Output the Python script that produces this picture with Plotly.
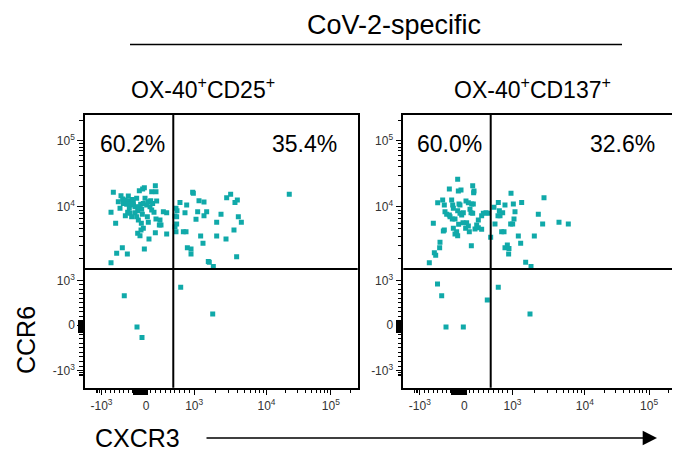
import numpy as np
import plotly.graph_objects as go

# ---------------- data (raw fluorescence values) ----------------
# Panel 1: OX-40+CD25+
p1_cxcr3 = [-734, -562, -524, -472, -382, -307, -285, -434, -584, -786, -412, -360, -464, -322,
            -247, -187, -120, -60, -150, -75, -37, 194, 118, 207, 48, 97, 138, 83, 221, -82,
            -172, -105, 48, -60, -187, -135, 194, 62, -37, 290, 311, 360, 429, 429, -682, -532,
            -659, -419, -786, -247, -210, 14, 118, 166, -375, -285, -509, -150, -97, 277, -22,
            -210, -397, 28, -337, 207, -622, -112,
            622, 643, 602, 636, 705, 844, 809, 968, 982, 1165, 1366, 1117, 1366, 1487, 1059,
            636, 602, 622, 775, 830, 858, 934, 934, 1228, 1323, 1567, 1617, 1839, 2046, 2349,
            2046, 2754, 2813, 3193, 3664, 3951, 4077, 4487, 3550, 3864, 22600,
            720, -488, 1803, -202, -90]
p1_ccr6 = [16500, 14700, 13100, 12600, 12300, 12900, 11600, 10900, 9500, 8390, 8390, 8130, 7550, 7330,
           10000, 8830, 10900, 11200, 17500, 18500, 19400, 20800, 16900, 16900, 11900, 12300, 11200,
           10000, 12200, 7870, 6600, 5960, 6140, 5090, 4350, 4050, 4440, 3650, 2670, 6600, 5650,
           8560, 8300, 4260, 5960, 2780, 2330, 2280, 1740, 8300, 7330, 10600, 9000, 8390, 9500,
           10600, 11200, 10000, 9200, 5650, 13400, 13400, 14500, 7330, 10900, 6810, 11900, 4830,
           9500, 8830, 7480, 7330, 11600, 10600, 8300, 16500, 15960, 12300, 11800, 8560, 7550, 8560,
           6740, 5820, 5360, 4580, 4580, 4580, 2780, 2670, 2280, 4000, 3190, 1800, 1760, 1540, 6140,
           7870, 4000, 3650, 13700, 15400, 11600, 12600, 7330, 6140, 4830, 2100, 15400,
           844, 655, 248, -43, -274]

# Panel 2: OX-40+CD137+
p2_cxcr3 = [-149, -336, -134, -74, 174, 201, 194, -598, -486, -449, -284, -261, -119, -97, 35, 84,
            153, 187, -434, -396, -336, -269, -209, -149, -97, -59, -22, 49, 118, 139, 174, 291,
            360, 395, 450, 499, -696, -471, -449, -246, -172, -209, -149, 28, 84, 104, 222, 291,
            360, 146, -546, -554, -673, -643, -786, -127, -321, -29, 257, -246, 547,
            616, 706, 727, 796, 741, 699, 844, 969, 1027, 1083, 1339, 1049, 1005, 962, 637, 775,
            824, 1204, 1297, 2004, 2276, 2612, 2727, 4395, 5915, 844, 893, 927, 920, 1521, 1803,
            -602, -508, 477, 705, 1746, -411, -22]
p2_ccr6 = [26000, 18500, 17300, 17900, 20800, 17300, 16300, 11500, 12600, 10600, 12600, 10600, 11000,
           10600, 12200, 11500, 11000, 11000, 8560, 7870, 7710, 6810, 6810, 8830, 8130, 7710, 8300,
           6070, 9200, 8300, 8130, 6600, 7550, 8130, 8300, 8130, 5960, 4680, 4830, 5090, 4580, 4260,
           4050, 5090, 5470, 4580, 4980, 5200, 4930, 2960, 3290, 2780, 2380, 2190, 1740, 5770, 7330,
           6070, 5650, 9500, 3840,
           9800, 11600, 8830, 8300, 7550, 7550, 10600, 15960, 11000, 8560, 11600, 6810, 5820, 5820,
           5820, 4580, 4580, 4000, 3190, 4000, 7870, 5820, 13700, 6140, 5820, 2780, 3020, 2700, 2280,
           1760, 1540,
           919, 655, 558, 844, 248, -43, -43]

panel_titles = ["OX-40<sup>+</sup>CD25<sup>+</sup>", "OX-40<sup>+</sup>CD137<sup>+</sup>"]
pct_upper_left = ["60.2%", "60.0%"]
pct_upper_right = ["35.4%", "32.6%"]
gate_cxcr3 = [566, 548]
gate_ccr6 = [1430, 1430]

tick_values = [-1000, 0, 1000, 10000, 100000]
tick_labels = ["-10<sup>3</sup>", "0", "10<sup>3</sup>", "10<sup>4</sup>", "10<sup>5</sup>"]

# ---------------- biexponential-like display scale ----------------
ANCH_U = [-2, -1, 0, 1, 2, 3, 4]
X_ANCH = [-28.0, 16.5, 61.0, 109.2, 181.5, 245.8, 310.1]
Y_ANCH = [-29.0, 17.0, 62.7, 107.3, 181.0, 247.0, 313.0]
SPAN = 272.7


def to_u(v):
    v = np.asarray(v, dtype=float)
    a = np.abs(v)
    return np.where(a <= 1000, v / 1000.0,
                    np.sign(v) * (1 + np.log10(np.maximum(a, 1e-9) / 1000.0)))


def tx(v):
    return np.interp(to_u(v), ANCH_U, X_ANCH)


def ty(v):
    return np.interp(to_u(v), ANCH_U, Y_ANCH)


minor_vals = (list(range(-1300, -1000, 100)) + list(range(-900, 0, 100)) +
              list(range(100, 1000, 100)) +
              [k * 1000 for k in range(2, 10)] + [k * 10000 for k in range(2, 10)] + [200000])
dense_x = list(range(-290, 50, 10))
dense_y = list(range(-160, 110, 10))

# ---------------- page geometry (body has an 8px margin) ----------------
OFF = 8
W, H = 672, 445


def fx(a):
    return (a - OFF) / W


def fy(a):
    return 1 - (a - OFF) / H


TEAL = "#10a9a9"
FONT = "Liberation Sans, Arial, Helvetica, sans-serif"

fig = go.Figure()

panels = [(p1_cxcr3, p1_ccr6), (p2_cxcr3, p2_ccr6)]
x_domains = [[fx(85), fx(357.7)], [fx(403.3), fx(676)]]
y_domain = [fy(387.7), fy(115)]

for i, (xs, ys) in enumerate(panels):
    xa = "x" if i == 0 else "x2"
    ya = "y" if i == 0 else "y2"
    xo = f"x{3 + i}"
    yo = f"y{3 + i}"
    fig.add_trace(go.Scatter(
        x=tx(xs), y=ty(ys), mode="markers", xaxis=xa, yaxis=ya,
        marker=dict(symbol="square", size=5, color=TEAL, line=dict(width=0)),
        showlegend=False, hoverinfo="skip"))
    # empty trace so the overlay (dense zero-tick) axes are drawn
    fig.add_trace(go.Scatter(x=[None], y=[None], mode="markers", xaxis=xo, yaxis=yo,
                             showlegend=False, hoverinfo="skip"))

    axis_common = dict(
        range=[0, SPAN], showgrid=False, zeroline=False, showline=True, linecolor="black",
        linewidth=1.5, mirror=True, ticks="outside", ticklen=6, tickwidth=1, tickcolor="black",
        tickmode="array", tickfont=dict(family=FONT, size=12, color="#333"),
        fixedrange=True)
    overlay_common = dict(
        range=[0, SPAN], showgrid=False, zeroline=False, showline=False, ticks="outside",
        ticklen=6, tickwidth=1, tickcolor="black", tickmode="array", showticklabels=False,
        fixedrange=True)
    n1 = "" if i == 0 else "2"
    n2 = str(3 + i)
    fig.update_layout(**{
        f"xaxis{n1}": dict(axis_common, domain=x_domains[i], anchor=ya,
                           tickvals=list(tx(tick_values)), ticktext=tick_labels,
                           minor=dict(tickmode="array", tickvals=list(tx(minor_vals)), ticklen=4,
                                      tickwidth=1, tickcolor="black", ticks="outside")),
        f"yaxis{n1}": dict(axis_common, domain=y_domain, anchor=xa,
                           tickvals=list(ty(tick_values)), ticktext=tick_labels,
                           minor=dict(tickmode="array", tickvals=list(ty(minor_vals)), ticklen=4,
                                      tickwidth=1, tickcolor="black", ticks="outside")),
        f"xaxis{n2}": dict(overlay_common, overlaying=xa, anchor=yo, domain=x_domains[i],
                           tickvals=list(tx(dense_x))),
        f"yaxis{n2}": dict(overlay_common, overlaying=ya, anchor=xo, domain=y_domain,
                           tickvals=list(ty(dense_y))),
    })

    # quadrant gates
    gx = float(tx(gate_cxcr3[i]))
    gy = float(ty(gate_ccr6[i]))
    fig.add_shape(type="line", xref=xa, yref=f"{ya} domain", x0=gx, x1=gx, y0=0, y1=1,
                  line=dict(color="black", width=2))
    fig.add_shape(type="line", xref=f"{xa} domain", yref=ya, x0=0, x1=1, y0=gy, y1=gy,
                  line=dict(color="black", width=2))

    # quadrant percentages
    for txt, xpos in ((pct_upper_left[i], [0.176, 0.170][i]),
                      (pct_upper_right[i], [0.805, 0.804][i])):
        fig.add_annotation(text=txt, xref=f"{xa} domain", yref=f"{ya} domain",
                           x=xpos, y=0.894, xanchor="center", yanchor="middle",
                           showarrow=False, font=dict(family=FONT, size=23, color="black"))

    # panel titles
    fig.add_annotation(text=panel_titles[i], xref="paper", yref="paper",
                       x=fx([203, 532][i]), y=fy(88), xanchor="center", yanchor="middle",
                       showarrow=False, font=dict(family=FONT, size=23, color="black"))

# overall title + bracket line
fig.add_annotation(text="CoV-2-specific", xref="paper", yref="paper", x=fx(394), y=fy(25),
                   xanchor="center", yanchor="middle",
                   showarrow=False, font=dict(family=FONT, size=27, color="black"))
fig.add_shape(type="line", xref="paper", yref="paper", x0=fx(130), x1=fx(622),
              y0=fy(44.5), y1=fy(44.5), line=dict(color="black", width=1.3))

# axis names
fig.add_annotation(text="CXCR3", xref="paper", yref="paper", x=fx(137), y=fy(438),
                   xanchor="center", yanchor="middle",
                   showarrow=False, font=dict(family=FONT, size=25, color="black"))
fig.add_annotation(text="CCR6", xref="paper", yref="paper", x=fx(26), y=fy(340),
                   xanchor="center", yanchor="middle",
                   showarrow=False, textangle=-90, font=dict(family=FONT, size=25, color="black"))
fig.add_annotation(text="", xref="paper", yref="paper", x=fx(657), y=fy(438),
                   ax=-452, ay=0, showarrow=True, arrowhead=2, arrowsize=2.2, arrowwidth=1.3,
                   arrowcolor="black")

fig.update_layout(width=W, height=H, margin=dict(l=0, r=0, t=0, b=0),
                  paper_bgcolor="white", plot_bgcolor="white")

fig.write_html("out.html")
